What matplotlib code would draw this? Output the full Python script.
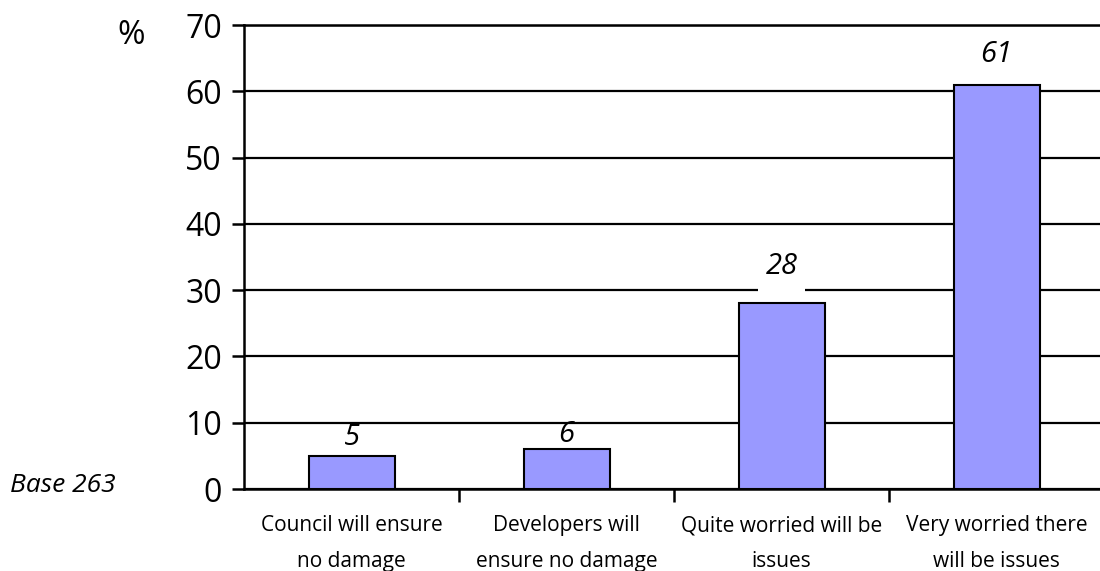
import matplotlib
matplotlib.use("Agg")
import matplotlib.pyplot as plt
import numpy as np

categories = ["Council will ensure\nno damage", "Developers will\nensure no damage",
              "Quite worried will be\nissues", "Very worried there\nwill be issues"]
values = [5, 6, 28, 61]
# vertical gap (points) between bar top and its value label
label_gap = [3, 0, 16, 11]
y_ticks = [0, 10, 20, 30, 40, 50, 60, 70]

plt.rcParams['font.family'] = ['Open Sans', 'DejaVu Sans']

fig = plt.figure(figsize=(11, 5.71), dpi=100)
ax = fig.add_axes([244 / 1100, 1 - 489 / 571, 860 / 1100, 464 / 571])

x = np.arange(len(values))
ax.bar(x, values, width=0.4, color='#9999ff', edgecolor='black', linewidth=1.5, zorder=3)
# white label backgrounds sitting on top of each bar, behind the value text
ax.bar(x, [3.5] * len(values), bottom=values, width=0.22, color='white', zorder=2)

for xi, v, g in zip(x, values, label_gap):
    ax.annotate(str(v), (xi, v), xytext=(0, g), textcoords='offset points',
                ha='center', va='bottom', fontsize=21, style='italic', zorder=5)

ax.set_xlim(-0.5, len(values) - 0.5)
ax.set_ylim(0, 70)
ax.set_yticks(y_ticks)
ax.tick_params(axis='y', labelsize=23, length=9, width=1.8, pad=7)
ax.set_xticks(x)
ax.set_xticklabels(categories, fontsize=15, linespacing=1.9)
ax.tick_params(axis='x', which='major', length=0, pad=19)
ax.set_xticks(x[:-1] + 0.5, minor=True)
ax.tick_params(axis='x', which='minor', length=9, width=1.8)

ax.grid(axis='y', color='black', linewidth=1.6, zorder=1)
ax.set_axisbelow(True)
for side in ['left', 'bottom', 'top']:
    ax.spines[side].set_linewidth(1.8)
    ax.spines[side].set_zorder(4)
ax.spines['right'].set_visible(False)

fig.text(131 / 1100, 1 - 36 / 571, '%', fontsize=24, ha='center', va='center')
fig.text(10 / 1100, 1 - 486 / 571, 'Base 263', fontsize=19, style='italic', ha='left', va='center')

fig.savefig('out.png', dpi=100)
